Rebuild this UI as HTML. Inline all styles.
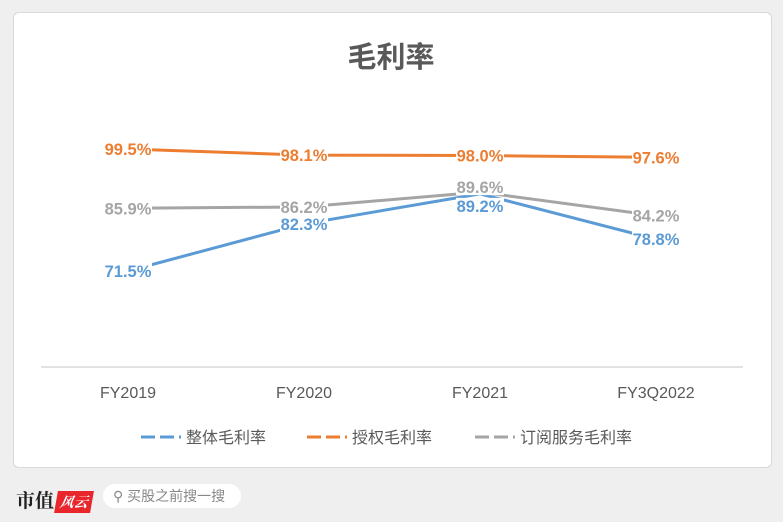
<!DOCTYPE html>
<html><head><meta charset="utf-8"><style>
body{margin:0;width:783px;height:522px;background:#efefef;font-family:"Liberation Sans","Noto Sans CJK SC",sans-serif;overflow:hidden;position:relative}
#card{position:absolute;left:13px;top:12px;width:757px;height:454px;background:#fff;border:1px solid #d9d9d9;border-radius:6px}
#logo{position:absolute;left:16px;top:486px;font:bold 19px "Noto Serif CJK SC","Noto Sans CJK SC",serif;color:#222}
#logo span{display:inline-block;background:#e8262c;color:#fff;font-size:14px;padding:1px 4px;margin-left:2px;font-style:italic;transform:skewX(-10deg)}
#search{position:absolute;left:103px;top:484px;width:138px;height:24px;border-radius:12px;background:#fff;color:#888;font-size:14px;line-height:24px}
</style></head><body>
<div id="card">
<svg id="chart" width="757" height="454"></svg>
</div>
<div id="logo">市值<span>风云</span></div>
<div id="search"><span style="margin-left:10px">&#9906;</span> 买股之前搜一搜</div>
<script>
const categories=["FY2019","FY2020","FY2021","FY3Q2022"];
const overall=[71.5,82.3,89.2,78.8];
const license=[99.5,98.1,98.0,97.6];
const subscription=[85.9,86.2,89.6,84.2];
const seriesNames=["整体毛利率","授权毛利率","订阅服务毛利率"];
const colors=["#5b9bd5","#ed7d31","#a5a5a5"];
const ox=-13,oy=-12;
const svg=document.getElementById('chart');
const NS="http://www.w3.org/2000/svg";
function cx(i){return 127+176*i+ox;}
function ys(v){return 148+(99.5-v)*4.357+oy;}
function mk(t,a,p){const e=document.createElementNS(NS,t);for(const k in a)e.setAttribute(k,a[k]);(p||svg).appendChild(e);return e;}
const title=mk('text',{x:390+ox,y:66+oy,'text-anchor':'middle','font-size':29,'font-weight':'bold',fill:'#595959'});title.textContent="毛利率";


const axis=mk('line',{x1:40+ox,x2:742+ox,y1:366+oy,y2:366+oy,stroke:'#d9d9d9','stroke-width':1.5});


categories.forEach((c,i)=>{const t=mk('text',{x:cx(i),y:397+oy,'text-anchor':'middle','font-size':16,fill:'#595959'});t.textContent=c;

});
const all=[overall,license,subscription];
const order=[2,0,1];
order.forEach(s=>{const d=all[s];
const pl=mk('polyline',{points:d.map((v,i)=>cx(i)+','+ys(v)).join(' '),fill:'none',stroke:colors[s],'stroke-width':3,'stroke-linejoin':'round'});

});
order.forEach(s=>{const d=all[s];
d.forEach((v,i)=>{let y=ys(v);
if(i==2&&s==2)y-=5;
if(i==2&&s==0)y+=12;
const r=mk('rect',{x:cx(i)-24,y:y-8,width:48,height:16,fill:'#fff'});


const t=mk('text',{x:cx(i),y:y+6,'text-anchor':'middle','font-size':16.5,'font-weight':'bold',fill:colors[s]});
t.textContent=v.toFixed(1)+'%';

});});
const lx=[140,306,474];
seriesNames.forEach((n,s)=>{const g=mk('g',{});


mk('line',{x1:lx[s]+ox,x2:lx[s]+40+ox,y1:436+oy,y2:436+oy,stroke:colors[s],'stroke-width':3,'stroke-dasharray':'14,5'},g);
const t=mk('text',{x:lx[s]+45+ox,y:442+oy,'font-size':16,fill:'#595959'},g);t.textContent=n;});
</script>
</body></html>
